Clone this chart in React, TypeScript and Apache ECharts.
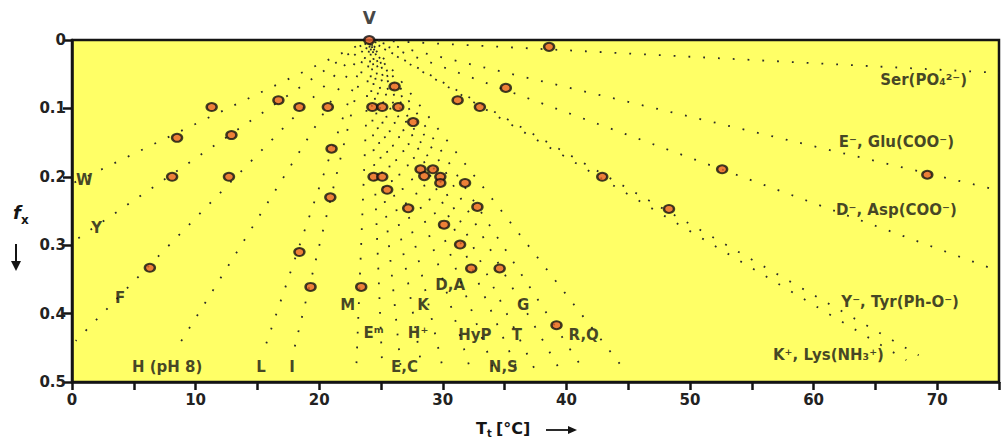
import React, { useEffect, useRef } from "react";
import * as echarts from "echarts";

const FONT = "DejaVu Sans";
const INK = "#141414";

// x axis ticks (labels only on multiples of 10)
const xTickStep = 5;
const xMax = 75;
const yMax = 0.5;
const yTickStep = 0.1;

// origin of the fan of dotted lines (V)
const originX = 24.05;
const originY = 0;

// dotted lines: end points (each line runs from V to its end)
const lineEndX = [
  0, 0, 0.3, 8.5, 15.6, 18.0,
  23.0, 25.1, 26.6, 28.3, 30.0, 32.2, 34.1, 36.0, 37.4, 39.4, 41.3, 44.6,
  67.5, 68.5, 75, 75, 75,
];
const lineEndY = [
  0.21, 0.296, 0.44, 0.45, 0.45, 0.45,
  0.48, 0.48, 0.48, 0.48, 0.48, 0.48, 0.48, 0.48, 0.48, 0.48, 0.48, 0.48,
  0.468, 0.461, 0.338, 0.22, 0.048,
];

// measured points (red markers)
const markerX = [
  11.3, 8.5, 8.1, 12.7, 12.9, 16.7, 18.4, 20.7, 21.0, 20.9, 18.4, 19.3, 6.3,
  26.1, 24.3, 25.1, 26.4, 27.6, 31.2, 33.0, 28.2, 29.2, 28.5, 29.8, 29.8, 31.8,
  24.4, 25.1, 25.5, 32.8, 27.2, 30.1, 31.4, 32.3, 34.6, 23.4, 39.2,
  38.6, 35.1, 42.9, 48.3, 52.6, 69.2,
];
const markerY = [
  0.098, 0.143, 0.2, 0.2, 0.139, 0.088, 0.098, 0.098, 0.159, 0.23, 0.31, 0.361, 0.333,
  0.068, 0.098, 0.098, 0.098, 0.12, 0.088, 0.098, 0.189, 0.189, 0.199, 0.2, 0.209, 0.209,
  0.2, 0.2, 0.219, 0.244, 0.246, 0.27, 0.299, 0.334, 0.334, 0.361, 0.417,
  0.01, 0.07, 0.2, 0.247, 0.189, 0.197,
];

// residue labels
const labelText = [
  "W", "Y", "F", "H (pH 8)", "L", "I", "M", "Eᵐ", "K", "H⁺", "E,C", "D,A",
  "HyP", "T", "N,S", "G", "R,Q",
  "Ser(PO₄²⁻)", "E⁻, Glu(COO⁻)", "D⁻, Asp(COO⁻)", "Y⁻, Tyr(Ph-O⁻)", "K⁺, Lys(NH₃⁺)",
];
const labelX = [
  1.0, 2.0, 3.9, 7.7, 15.3, 17.8, 22.3, 24.4, 28.4, 28.0, 26.9, 30.6,
  32.6, 36.0, 34.9, 36.5, 41.4,
  68.9, 66.7, 66.7, 67.0, 61.2,
];
const labelY = [
  0.205, 0.275, 0.377, 0.478, 0.478, 0.478, 0.387, 0.428, 0.387, 0.428, 0.478, 0.358,
  0.431, 0.431, 0.478, 0.387, 0.431,
  0.058, 0.149, 0.248, 0.383, 0.46,
];

export default function App() {
  const ref = useRef<HTMLDivElement>(null);

  useEffect(() => {
    document.body.style.margin = "0";
    if (!ref.current) return;
    const chart = echarts.init(ref.current, null, { renderer: "svg" });

    const lineSeries = lineEndX.map((ex, i) => ({
      type: "line",
      data: [
        [originX, originY],
        [ex, lineEndY[i]],
      ],
      symbol: "none",
      silent: true,
      z: 2,
      lineStyle: {
        color: "#2a2a2a",
        width: 1.8,
        type: [1.8, 13],
        dashOffset: (i * 5) % 13,
        cap: "butt",
      },
    }));

    const markerStyle = { color: "#e8602c", borderColor: "#111", borderWidth: 2.2 };

    const option: any = {
      animation: false,
      textStyle: { fontFamily: FONT },
      grid: {
        left: 72,
        top: 40,
        right: -5,
        bottom: 60,
        show: true,
        backgroundColor: "#ffff66",
        borderColor: INK,
        borderWidth: 2.5,
      },
      xAxis: {
        type: "value",
        min: 0,
        max: xMax,
        interval: xTickStep,
        axisLine: { show: true, onZero: false, lineStyle: { color: INK, width: 2.5 } },
        axisTick: { show: true, length: 8, lineStyle: { color: INK, width: 2.5 } },
        axisLabel: {
          formatter: (v: number) => (v % 10 === 0 ? String(v) : ""),
          fontSize: 15,
          fontWeight: "bold",
          color: "#222",
          fontFamily: FONT,
          margin: 10,
        },
        splitLine: { show: false },
      },
      yAxis: {
        type: "value",
        inverse: true,
        min: 0,
        max: yMax,
        interval: yTickStep,
        axisLine: { show: true, onZero: false, lineStyle: { color: INK, width: 2.5 } },
        axisTick: { show: true, length: 9, lineStyle: { color: INK, width: 2.5 } },
        axisLabel: {
          formatter: (v: number) => (v === 0 ? "0" : v.toFixed(1)),
          fontSize: 15,
          fontWeight: "bold",
          color: "#222",
          fontFamily: FONT,
          margin: 6,
        },
        splitLine: { show: false },
      },
      graphic: [
        { type: "text", left: 13, top: 203, style: { text: "f", fontSize: 18, fontStyle: "italic", fontWeight: "bold", fontFamily: FONT, fill: INK } },
        { type: "text", left: 21, top: 214, style: { text: "x", fontSize: 12, fontWeight: "bold", fontFamily: FONT, fill: INK } },
        { type: "line", shape: { x1: 16, y1: 244, x2: 16, y2: 266 }, style: { stroke: INK, lineWidth: 2 } },
        { type: "polygon", shape: { points: [[11, 261], [21, 261], [16, 271]] }, style: { fill: INK } },
        { type: "text", left: 476, top: 420, style: { text: "T", fontSize: 16, fontWeight: "bold", fontFamily: FONT, fill: INK } },
        { type: "text", left: 487, top: 428, style: { text: "t", fontSize: 10, fontWeight: "bold", fontFamily: FONT, fill: INK } },
        { type: "text", left: 496, top: 420, style: { text: "[°C]", fontSize: 16, fontWeight: "bold", fontFamily: FONT, fill: INK } },
        { type: "line", shape: { x1: 546, y1: 430, x2: 570, y2: 430 }, style: { stroke: INK, lineWidth: 1.8 } },
        { type: "polygon", shape: { points: [[568, 426], [568, 434], [577, 430]] }, style: { fill: INK } },
      ],
      series: [
        ...lineSeries,
        {
          type: "scatter",
          data: markerX.map((x, i) => [x, markerY[i]]),
          symbol: "circle",
          symbolSize: [10, 8],
          silent: true,
          z: 5,
          itemStyle: markerStyle,
        },
        {
          type: "scatter",
          data: [{ value: [originX, originY], name: "V" }],
          symbol: "circle",
          symbolSize: [10, 8],
          silent: true,
          z: 6,
          clip: false,
          itemStyle: markerStyle,
          label: {
            show: true,
            position: "top",
            distance: 9,
            formatter: "{b}",
            fontSize: 17,
            fontWeight: "bold",
            fontFamily: FONT,
            color: INK,
          },
        },
        {
          type: "scatter",
          data: labelText.map((t, i) => ({ value: [labelX[i], labelY[i]], name: t })),
          symbolSize: 1,
          silent: true,
          z: 7,
          itemStyle: { color: "transparent" },
          label: {
            show: true,
            position: "inside",
            formatter: "{b}",
            fontSize: 15,
            fontWeight: "bold",
            fontFamily: FONT,
            color: INK,
          },
        },
      ],
    };

    chart.setOption(option);
    return () => chart.dispose();
  }, []);

  return <div ref={ref} style={{ width: 1002, height: 442 }} />;
}
